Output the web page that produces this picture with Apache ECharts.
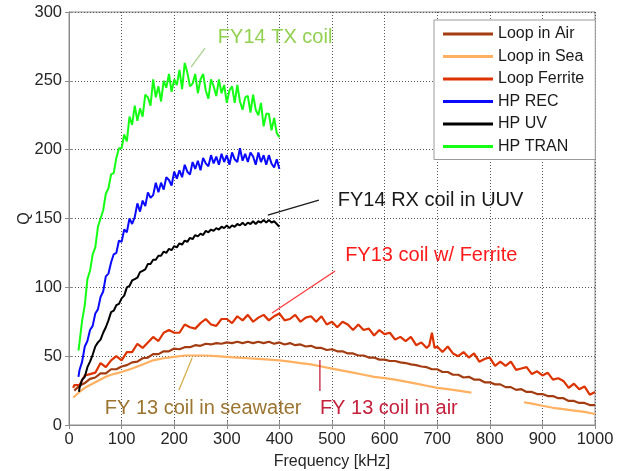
<!DOCTYPE html>
<html><head><meta charset="utf-8">
<script src="https://cdn.jsdelivr.net/npm/echarts@6/dist/echarts.min.js"></script>
<style>html,body{margin:0;padding:0;background:#fff}#c{width:629px;height:471px}</style>
</head><body><div id="c"></div><script>
// ---- data (frequency kHz, Q) ----
const seriesNames = ['Loop in Air','Loop in Sea','Loop Ferrite','HP REC','HP UV','HP TRAN'];
const xTicks = [0,100,200,300,400,500,600,700,800,900,1000];
const yTicks = [0,50,100,150,200,250,300];

const loopAir = [[10,25],[20,28.5],[30,30.5],[40,33.5],[50,34.5],[60,37.5],[70,37.5],[80,40.5],[90,40.5],[100,42.5],
[110,43.5],[120,45.5],[130,46],[140,48.5],[150,49],[160,51.5],[170,51.5],[180,53.5],[190,53.5],[200,55.5],
[210,55],[220,56.5],[230,56.5],[240,58],[250,57.5],[260,59],[270,58.5],[280,59.5],[290,59],[300,60],
[310,59.5],[320,60.5],[330,59.5],[340,60.5],[350,59.5],[360,60.5],[370,59.5],[380,60.5],[390,59],[400,60],
[410,58.5],[420,59.5],[430,58],[440,58.5],[450,57],[460,57.5],[470,56],[480,56],[490,54.5],[500,55],
[510,53.5],[520,53.5],[530,52],[540,52],[550,50.5],[560,50.5],[570,49],[580,49],[590,47.5],[600,47.5],
[610,46.5],[620,46.5],[630,45.5],[640,45],[650,44],[660,43.5],[670,42.5],[680,42],[690,40.5],[700,40.5],
[710,38.5],[720,38.5],[730,36.5],[740,36.5],[750,34.5],[760,35],[770,33],[780,33],[790,31],[800,31],
[810,29.5],[820,29.5],[830,27.5],[840,27.5],[850,25.5],[860,26],[870,24],[880,24],[890,22.5],[900,22.5],
[910,21],[920,21],[930,19.5],[940,19.5],[950,17.5],[960,17.5],[970,16],[980,16],[990,14.5],[1000,14.5]];

const loopSea = [[8,20],[10,21],[20,24],[30,27],[40,29],[50,31],[60,33],[70,35],[80,36.5],[90,37.5],[100,38.5],
[120,41],[140,44],[160,47],[180,48.5],[200,49.5],[220,50.5],[240,50.5],[260,50.5],[280,50],[300,49.5],
[320,49],[340,48.5],[360,48],[380,47.5],[400,47],[420,46],[440,45],[460,44],[480,42.5],[500,41],
[520,39.5],[540,38],[560,36.5],[580,35],[600,34],[620,33],[640,31.5],[660,30],[680,28.5],[700,27],
[720,26],[740,25],[765,23.5],[815,null],[865,16.5],[880,15.5],[900,14],[920,12.5],[940,11.5],[960,10.5],
[980,9.5],[1000,8]];

const loopFerrite = [[8,27],[10,29],[20,29],[30,36],[40,37],[50,38],[60,45],[70,42],[80,47],[90,50],[100,47],
[110,53],[120,53],[130,59],[140,56],[150,60],[160,64],[170,61],[180,67],[190,69],[200,67],
[210,67],[220,73],[230,71],[240,70],[250,74],[260,77],[270,73],[280,72],[290,77],[300,77],
[310,74],[320,79],[330,76],[340,80],[350,75],[360,78],[370,80],[380,76],[390,79],[400,81],
[410,76],[420,77],[430,80],[440,75],[450,78],[460,79],[470,75],[480,79],[490,73],[500,75],
[510,71],[520,75],[530,73],[540,69],[550,73],[560,69],[570,70],[580,65],[590,69],[600,66],
[610,67],[620,62],[630,64],[640,61],[650,64],[660,58],[670,60],[680,56],[685,58],[690,67],[695,56],[700,57],
[710,53],[720,57],[730,52],[740,50],[750,53],[760,49],[770,52],[780,46],[790,48],[800,49],
[810,43],[820,46],[830,43],[840,46],[850,40],[860,41],[870,42],[880,37],[890,39],[900,36],
[910,38],[920,33],[930,34],[940,32],[950,27],[960,30],[970,26],[980,28],[990,22],[1000,24]];

const hpRec = [[18,35],[20,40],[25,46],[30,57],[35,61],[40,69],[45,72],[50,81],[55,84],[60,93],[65,97],
[70,108],[75,110],[80,118],[85,124],[90,125],[95,134],[100,133],[105,142],[110,140],[115,150],
[120,146],[125,151],[130,161],[135,155],[140,163],[145,159],[150,169],[155,165],[160,167],[165,176],
[170,169],[175,176],[180,171],[185,180],[190,178],[195,174],[200,184],[205,179],[210,185],[215,180],
[220,189],[225,184],[230,182],[235,191],[240,186],[245,192],[250,185],[255,194],[260,190],[265,188],
[270,196],[275,190],[280,195],[285,189],[290,197],[295,191],[300,196],[305,189],[310,198],[315,193],
[320,191],[325,201],[330,192],[335,197],[340,191],[345,198],[350,195],[355,189],[360,198],[365,191],
[370,196],[375,189],[380,196],[385,190],[390,187],[395,193],[400,186]];

const hpUv = [[19,24],[20,27],[25,33],[30,35],[35,42],[40,46],[45,51],[50,57],[55,60],[60,62],[65,67],
[70,71],[75,76],[80,82],[85,83],[90,87],[95,88],[100,92],[105,94],[110,100],[115,101],
[120,105],[125,106],[130,107],[135,111],[140,112],[145,113],[150,117],[155,117],[160,120],[165,120],
[170,123],[175,123],[180,126],[185,125],[190,128],[195,127],[200,130],[205,129],[210,132],[215,131],
[220,134],[225,133],[230,136],[235,135],[240,138],[245,137],[250,139],[255,138],[260,141],[265,140],
[270,142],[275,141],[280,143],[285,142],[290,144],[295,143],[300,145],[305,143],[310,145],[315,144],
[320,146],[325,145],[330,147],[335,145],[340,147],[345,146],[350,148],[355,146],[360,148],[365,147],
[370,149],[375,147],[380,149],[385,147],[390,148],[395,146],[400,144]];

const hpTran = [[18,54],[20,60],[25,76],[30,87],[35,106],[40,112],[45,124],[50,129],[55,144],[60,150],[65,156],
[70,168],[75,172],[80,182],[85,183],[90,194],[95,201],[100,201],[105,211],[110,206],[115,224],
[120,218],[125,232],[130,221],[135,230],[140,224],[145,240],[150,238],[155,232],[160,251],[165,238],
[170,246],[175,235],[180,250],[185,245],[190,255],[195,242],[200,251],[205,247],[210,258],[215,244],
[220,263],[225,256],[230,246],[235,248],[240,255],[245,241],[250,251],[255,255],[260,243],[265,237],
[270,251],[275,246],[280,239],[285,251],[290,241],[295,247],[300,234],[305,243],[310,246],[315,234],
[320,247],[325,235],[330,229],[335,238],[340,239],[345,227],[350,240],[355,229],[360,225],[365,234],
[370,217],[375,226],[380,226],[385,214],[390,223],[395,212],[400,209]];

// annotations in data coordinates
const notes = [
  {text:'FY14 TX coil', at:[283,281.8], from:[258.5,273.8], to:[232,260], color:'#92D050', lineColor:'#A9D18E'},
  {text:'FY14 RX coil in UUV', at:[511,163.4], from:[475,163.4], to:[378,152.5], color:'#1a1a1a', lineColor:'#1a1a1a'},
  {text:'FY13 coil w/ Ferrite', at:[525,122.8], from:[506,111.9], to:[386,81.4], color:'#FF1A1A', lineColor:'#FF3B3B'},
  {text:'FY 13 coil in seawater', at:[68,12.3], from:[234,48.7], to:[209,25.4], color:'#9C7430', lineColor:'#D6AE4E'},
  {text:'FY 13 coil in air', at:[477,12.3], from:[477,47.2], to:[477,24.7], color:'#C4203C', lineColor:'#C4203C'}
];

const colors = ['#A33C10','#FFB060','#DD3300','#0A0AFF','#000000','#14FF14'];
const datas = [loopAir, loopSea, loopFerrite, hpRec, hpUv, hpTran];
const FONT = "'Liberation Sans', Arial, sans-serif";

const chart = echarts.init(document.getElementById('c'), null, {renderer:'canvas'});
const axisCommon = {
  type:'value', axisLine:{show:true, lineStyle:{color:'#8c8c8c', width:1}},
  axisTick:{show:true, inside:true, length:4, lineStyle:{color:'#8c8c8c'}},
};
chart.setOption({
  animation:false,
  backgroundColor:'#fff',
  grid:{left:69, right:34, top:12, bottom:46, show:true, borderColor:'#8c8c8c', borderWidth:1,
        containLabel:false, outerBoundsMode:'none'},
  legend:{
    data:seriesNames, orient:'vertical', left:434, top:20, icon:'rect', itemWidth:50, itemHeight:3,
    itemGap:6.5, padding:[6,11,5,9], backgroundColor:'#fff', borderColor:'#9a9a9a', borderWidth:1,
    textStyle:{fontFamily:FONT, fontSize:16, color:'#1a1a1a'}, itemStyle:{borderWidth:0}
  },
  xAxis:[
    Object.assign({}, axisCommon, {min:0, max:1000, interval:100, position:'bottom',
      name:'Frequency [kHz]', nameLocation:'middle', nameGap:29, nameMoveOverlap:false,
      nameTextStyle:{fontFamily:FONT, fontSize:16, color:'#262626'},
      axisLabel:{fontFamily:FONT, fontSize:16.5, color:'#262626', margin:6, formatter:v=>xTicks.includes(v)?String(v):''},
      splitLine:{show:true, lineStyle:{color:'#555', type:[1,2], width:1}}}),
    Object.assign({}, axisCommon, {min:0, max:1000, interval:100, position:'top',
      axisLabel:{show:false}, splitLine:{show:false}})
  ],
  yAxis:[
    Object.assign({}, axisCommon, {min:0, max:300, interval:50, position:'left',
      name:'Q', nameLocation:'middle', nameGap:36, nameRotate:90, nameMoveOverlap:false,
      nameTextStyle:{fontFamily:FONT, fontSize:16, color:'#262626'},
      axisLabel:{fontFamily:FONT, fontSize:16.5, color:'#262626', margin:7, formatter:v=>yTicks.includes(v)?String(v):''},
      splitLine:{show:true, lineStyle:{color:'#555', type:[1,2], width:1}}}),
    Object.assign({}, axisCommon, {min:0, max:300, interval:50, position:'right',
      axisLabel:{show:false}, splitLine:{show:false}})
  ],
  series: seriesNames.map((n,i)=>({
    name:n, type:'line', data:datas[i], symbol:'none', showSymbol:false, connectNulls:false,
    xAxisIndex:0, yAxisIndex:0, color:colors[i],
    lineStyle:{color:colors[i], width: i<3 ? 2.2 : 2}, z: 2+i
  }))
});

function px(p){ return chart.convertToPixel({xAxisIndex:0, yAxisIndex:0}, p); }
const elems = [];
notes.forEach(n=>{
  const a = px(n.from), b = px(n.to), t = px(n.at);
  elems.push({type:'line', shape:{x1:a[0], y1:a[1], x2:b[0], y2:b[1]}, style:{stroke:n.lineColor, lineWidth:1.3}, z:50});
  elems.push({type:'text', x:t[0], y:t[1], style:{text:n.text, fill:n.color, font:'20px '+FONT, textAlign:'left', textVerticalAlign:'middle'}, z:50});
});
chart.setOption({graphic:elems});
</script></body></html>
